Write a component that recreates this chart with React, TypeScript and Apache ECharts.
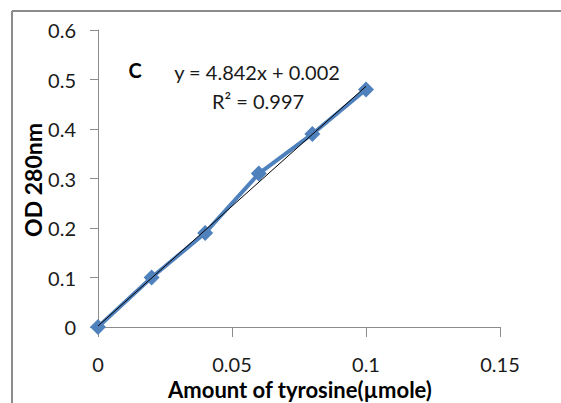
import React, { useEffect, useRef } from "react";
import * as echarts from "echarts";

const xValues = [0, 0.02, 0.04, 0.06, 0.08, 0.1];
const yValues = [0, 0.1, 0.19, 0.31, 0.39, 0.48];
const trendX = [0, 0.1];
const trendY = [0.002, 0.4862];
const equationText = "y = 4.842x + 0.002";
const r2Text = "R² = 0.997";
const panelLabel = "C";
const xAxisName = "Amount of tyrosine(µmole)";
const yAxisName = "OD 280nm";

const FONT = "Lato";

export default function App() {
  const ref = useRef<HTMLDivElement>(null);
  useEffect(() => {
    if (!ref.current) return;
    const chart = echarts.init(ref.current, undefined, { renderer: "svg" });
    chart.setOption({
      animation: false,
      backgroundColor: "#ffffff",
      grid: { left: 98, top: 30, right: 61, bottom: 76 },
      xAxis: {
        type: "value",
        min: 0,
        max: 0.15,
        interval: 0.05,
        splitLine: { show: false },
        axisLine: { lineStyle: { color: "#8c8c8c", width: 1 } },
        axisTick: { show: true, length: 10, lineStyle: { color: "#8c8c8c" } },
        axisLabel: { fontFamily: FONT, fontSize: 20, color: "#1a1a1a", margin: 27, lineHeight: 20 },
      },
      yAxis: {
        type: "value",
        min: 0,
        max: 0.6,
        interval: 0.1,
        splitLine: { show: false },
        axisLine: { show: true, lineStyle: { color: "#8c8c8c", width: 1 } },
        axisTick: { show: true, length: 8, lineStyle: { color: "#8c8c8c" } },
        axisLabel: { fontFamily: FONT, fontSize: 20, color: "#1a1a1a", margin: 22 },
      },
      graphic: [
        { type: "line", shape: { x1: 12, y1: 11, x2: 12, y2: 403 }, style: { stroke: "#8c8c8c", lineWidth: 2 } },
        { type: "line", shape: { x1: 12, y1: 11, x2: 561, y2: 11 }, style: { stroke: "#8c8c8c", lineWidth: 2 } },
        {
          type: "text", x: 33, y: 180, rotation: Math.PI / 2,
          style: { text: yAxisName, fontFamily: FONT, fontWeight: "bold", fontSize: 23, fill: "#000", align: "center", verticalAlign: "middle" },
        },
        {
          type: "text", x: 300, y: 389,
          style: { text: xAxisName, fontFamily: FONT, fontWeight: "bold", fontSize: 22, lineHeight: 22, fill: "#000", align: "center", verticalAlign: "middle" },
        },
        {
          type: "text", x: 135, y: 70,
          style: { text: panelLabel, fontFamily: FONT, fontWeight: "bold", fontSize: 20, fill: "#000", align: "center", verticalAlign: "middle" },
        },
        {
          type: "text", x: 257, y: 72,
          style: { text: equationText, fontFamily: FONT, fontSize: 20, fill: "#1a1a1a", align: "center", verticalAlign: "middle" },
        },
        {
          type: "text", x: 258, y: 101,
          style: { text: r2Text, fontFamily: FONT, fontSize: 20, fill: "#1a1a1a", align: "center", verticalAlign: "middle" },
        },
      ],
      series: [
        {
          type: "line",
          data: xValues.map((x, i) => [x, yValues[i]]),
          symbol: "diamond",
          symbolSize: 16,
          lineStyle: { color: "#4F81BD", width: 4 },
          itemStyle: { color: "#4F81BD" },
          z: 2,
        },
        {
          type: "line",
          data: trendX.map((x, i) => [x, trendY[i]]),
          symbol: "none",
          lineStyle: { color: "#000000", width: 1 },
          z: 3,
        },
      ],
    });
    return () => chart.dispose();
  }, []);
  return <div ref={ref} style={{ width: 561, height: 403, position: "absolute", left: 0, top: 0 }} />;
}
